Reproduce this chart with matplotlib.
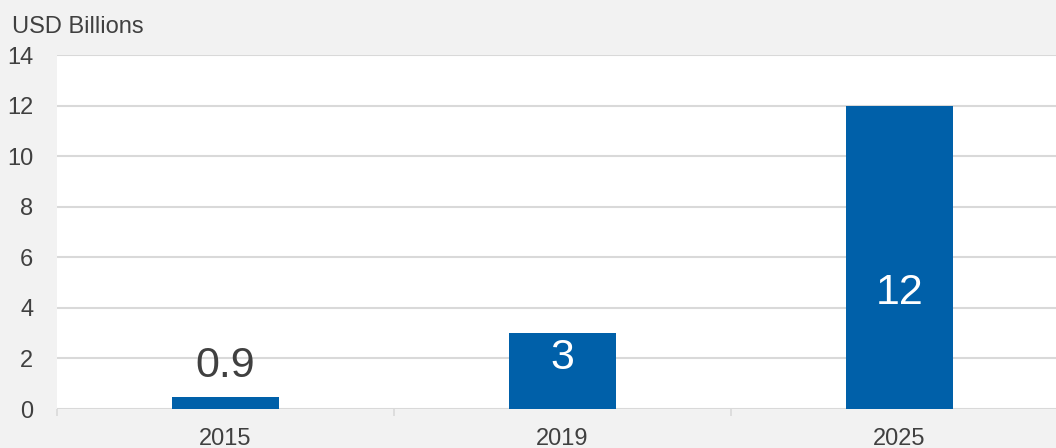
import matplotlib
matplotlib.use("Agg")
import matplotlib.pyplot as plt
from matplotlib.ticker import FixedLocator

categories = ["2015", "2019", "2025"]
values = [0.48, 3, 12]
labels = ["0.9", "3", "12"]
y_ticks = [0, 2, 4, 6, 8, 10, 12, 14]
unit_label = "USD Billions"

plt.rcParams['font.family'] = ['Liberation Sans', 'DejaVu Sans']

bg = "#f2f2f2"
bar_color = "#0060a9"
grid_color = "#d9d9d9"
text_color = "#404040"

fig = plt.figure(figsize=(10.56, 4.48), dpi=100, facecolor=bg)
ax = fig.add_axes([57/1056, 39/448, 1011/1056, 354/448])
ax.set_facecolor("white")

x = list(range(len(categories)))
ax.bar(x, values, width=0.315, color=bar_color, zorder=3)

ax.set_xlim(-0.5, len(categories) - 0.5)
ax.set_ylim(0, 14)
ax.set_yticks(y_ticks)
ax.set_yticklabels([str(t) for t in y_ticks])
ax.set_xticks(x)
ax.set_xticklabels(categories)
ax.xaxis.set_minor_locator(FixedLocator([i - 0.5 for i in range(len(categories) + 1)]))

ax.grid(axis='y', color=grid_color, linewidth=1.5, zorder=0)
ax.set_axisbelow(True)
for s in ax.spines.values():
    s.set_visible(False)
ax.tick_params(axis='y', length=0, pad=17, labelsize=17, labelcolor=text_color)
ax.tick_params(axis='x', which='major', length=0, pad=14, labelsize=17, labelcolor=text_color)
ax.tick_params(axis='x', which='minor', length=5, width=1.2, color=grid_color)

# value labels
label_pos = [1.72, 2.0, 4.6]
label_colors = [text_color, "white", "white"]
for xi, lab, yp, c in zip(x, labels, label_pos, label_colors):
    ax.text(xi, yp, lab, ha='center', va='center', fontsize=31, color=c, zorder=4)

fig.text(12/1056, 1 - 33/448, unit_label, ha='left', va='baseline', fontsize=17, color=text_color)

fig.savefig("out.png", dpi=100, facecolor=bg)
